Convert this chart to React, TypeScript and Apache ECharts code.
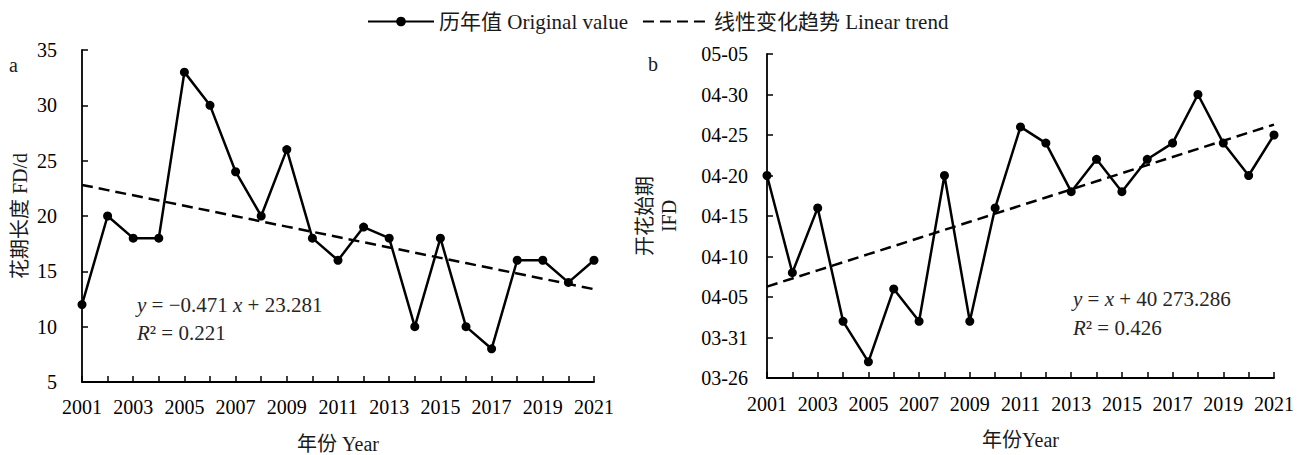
import { useEffect, useRef } from 'react';
import * as echarts from 'echarts';

// Observation years shared by both panels
const years = [
  '2001', '2002', '2003', '2004', '2005', '2006', '2007', '2008', '2009', '2010', '2011',
  '2012', '2013', '2014', '2015', '2016', '2017', '2018', '2019', '2020', '2021',
];

// Panel a: flowering duration (days)
const floweringDuration = [12, 20, 18, 18, 33, 30, 24, 20, 26, 18, 16, 19, 18, 10, 18, 10, 8, 16, 16, 14, 16];

// Panel b: initial flowering date (month-day)
const initialFloweringDate = [
  '04-20', '04-08', '04-16', '04-02', '03-28', '04-06', '04-02', '04-20', '04-02', '04-16', '04-26',
  '04-24', '04-18', '04-22', '04-18', '04-22', '04-24', '04-30', '04-24', '04-20', '04-25',
];

// Axis ranges
const durationAxis = { min: 5, max: 35, step: 5 };
const dateAxis = { from: '03-26', to: '05-05', step: 5 };

// Linear fits (x = year index starting at 1). The date fit is in Excel serial days.
const durationFit = { slope: -0.471, intercept: 23.281, r2: '0.221' };
const dateFit = { slope: 1, intercept: 40273.286, r2: '0.426' };
// Excel serial number of 2010-03-26, the date axis origin
const excelSerialOfAxisStart = 40263;

const SERIF = "'Liberation Serif', 'Times New Roman', 'Noto Sans CJK SC', serif";
const INK = '#000';
const TEXT = '#1a1a1a';

const ORIGINAL = '历年值 Original value';
const TREND = '线性变化趋势 Linear trend';

const monthStarts = [0, 31, 59, 90, 120, 151, 181, 212, 243, 273, 304, 334];

function dayOfYear(md: string): number {
  const [m, d] = md.split('-').map(Number);
  return monthStarts[m - 1] + d;
}

function monthDay(doy: number): string {
  let m = 11;
  while (m > 0 && monthStarts[m] >= doy) m--;
  const d = doy - monthStarts[m];
  return `${String(m + 1).padStart(2, '0')}-${String(d).padStart(2, '0')}`;
}

const dateBase = dayOfYear(dateAxis.from);
const dateSpan = dayOfYear(dateAxis.to) - dateBase;

const durationTrend = years.map((_, i) => +(durationFit.slope * (i + 1) + durationFit.intercept).toFixed(3));
const dateOffsets = initialFloweringDate.map((d) => dayOfYear(d) - dateBase);
const dateTrend = years.map(
  (_, i) => +(dateFit.slope * (i + 1) + dateFit.intercept - excelSerialOfAxisStart).toFixed(3),
);

const tickFont = { fontFamily: SERIF, fontSize: 20, color: INK };

function xAxisFor(gridIndex: number, name: string, nameGap: number, labelMargin: number) {
  return {
    type: 'category' as const,
    gridIndex,
    data: years,
    boundaryGap: false,
    name,
    nameLocation: 'middle' as const,
    nameGap,
    nameTextStyle: { fontFamily: SERIF, fontSize: 20, color: TEXT },
    axisLine: { lineStyle: { color: INK, width: 1.8 } },
    axisTick: { inside: true, length: 6, interval: 0, lineStyle: { color: INK, width: 1.5 } },
    axisLabel: { ...tickFont, interval: 1, margin: labelMargin },
    splitLine: { show: false },
  };
}

const lineSeries = (xAxisIndex: number, data: number[]) => ({
  name: ORIGINAL,
  type: 'line' as const,
  xAxisIndex,
  yAxisIndex: xAxisIndex,
  data,
  symbol: 'circle',
  symbolSize: 9,
  z: 3,
  lineStyle: { color: INK, width: 2.5 },
  itemStyle: { color: INK },
});

const trendSeries = (xAxisIndex: number, data: number[]) => ({
  name: TREND,
  type: 'line' as const,
  xAxisIndex,
  yAxisIndex: xAxisIndex,
  data,
  symbol: 'none',
  z: 2,
  lineStyle: { color: INK, width: 2.5, type: [11, 6] },
  itemStyle: { color: INK },
});

function equation(x: number, y: number, parts: string) {
  return {
    type: 'text' as const,
    x,
    y,
    style: {
      text: parts,
      fontFamily: SERIF,
      fontSize: 21,
      fill: '#262626',
      verticalAlign: 'middle' as const,
      rich: {
        i: { fontStyle: 'italic', fontFamily: SERIF, fontSize: 21, fill: '#262626' },
      },
    },
  };
}

const option = {
  animation: false,
  backgroundColor: '#fff',
  legend: {
    top: 6,
    left: 362,
    itemWidth: 66,
    itemHeight: 12,
    itemGap: 14,
    textStyle: { fontFamily: SERIF, fontSize: 21, color: TEXT },
    data: [
      { name: ORIGINAL },
      { name: TREND, itemStyle: { opacity: 0 } },
    ],
  },
  grid: [
    { left: 82, top: 50, width: 512, height: 332, outerBoundsMode: 'none' },
    { left: 767, top: 54, width: 507, height: 324, outerBoundsMode: 'none' },
  ],
  xAxis: [xAxisFor(0, '年份 Year', 52, 15), xAxisFor(1, '年份Year', 52, 16)],
  yAxis: [
    {
      type: 'value',
      gridIndex: 0,
      min: durationAxis.min,
      max: durationAxis.max,
      interval: durationAxis.step,
      name: '花期长度 FD/d',
      nameLocation: 'middle',
      nameGap: 52,
      nameTextStyle: { fontFamily: SERIF, fontSize: 20, color: TEXT },
      axisLine: { show: true, lineStyle: { color: INK, width: 1.8 } },
      axisTick: { show: true, inside: true, length: 6, lineStyle: { color: INK, width: 1.5 } },
      axisLabel: { ...tickFont, margin: 25 },
      splitLine: { show: false },
    },
    {
      type: 'value',
      gridIndex: 1,
      min: 0,
      max: dateSpan,
      interval: dateAxis.step,
      name: '开花始期\nIFD',
      nameLocation: 'middle',
      nameGap: 86,
      nameTextStyle: { fontFamily: SERIF, fontSize: 20, color: TEXT, lineHeight: 24 },
      axisLine: { show: true, lineStyle: { color: INK, width: 1.8 } },
      axisTick: { show: true, inside: true, length: 6, lineStyle: { color: INK, width: 1.5 } },
      axisLabel: {
        ...tickFont,
        margin: 19,
        formatter: (v: number) => monthDay(dateBase + v),
      },
      splitLine: { show: false },
    },
  ],
  series: [
    trendSeries(0, durationTrend),
    lineSeries(0, floweringDuration),
    trendSeries(1, dateTrend),
    lineSeries(1, dateOffsets),
  ],
  graphic: [
    { type: 'text', x: 9, y: 65, style: { text: 'a', fontFamily: SERIF, fontSize: 20, fill: TEXT, verticalAlign: 'middle' } },
    { type: 'text', x: 648, y: 64, style: { text: 'b', fontFamily: SERIF, fontSize: 20, fill: TEXT, verticalAlign: 'middle' } },
    equation(137, 305, `{i|y} = −${Math.abs(durationFit.slope)} {i|x} + ${durationFit.intercept}`),
    equation(137, 333, `{i|R}² = ${durationFit.r2}`),
    equation(1073, 299, `{i|y} = {i|x} + 40 273.286`),
    equation(1073, 328, `{i|R}² = ${dateFit.r2}`),
  ],
};

export default function App() {
  const ref = useRef<HTMLDivElement>(null);
  useEffect(() => {
    if (!ref.current) return;
    const chart = echarts.init(ref.current, null, { renderer: 'svg' });
    chart.setOption(option as any);
    return () => chart.dispose();
  }, []);
  return (
    <div
      ref={ref}
      style={{ position: 'fixed', left: 0, top: 0, width: 1302, height: 455, background: '#fff' }}
    />
  );
}
